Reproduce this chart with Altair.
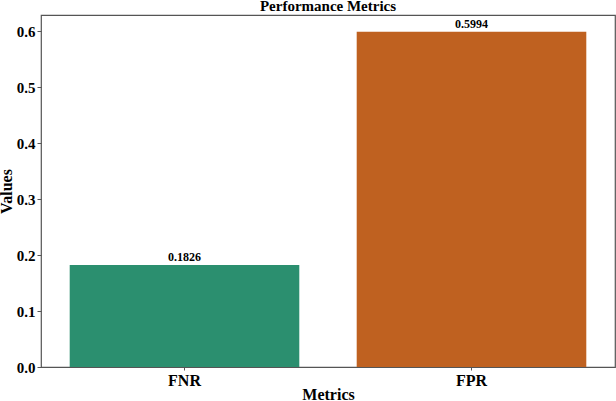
import altair as alt
import pandas as pd

metrics = ["FNR", "FPR"]
values = [0.1826, 0.5994]
colors = ["#2b8f6f", "#bf6120"]

df = pd.DataFrame({"Metric": metrics, "Value": values, "Label": [f"{v:.4f}" for v in values]})

FONT = "Liberation Serif"

x = alt.X("Metric:N", sort=metrics,
          scale=alt.Scale(paddingInner=0.2, paddingOuter=0.1),
          axis=alt.Axis(title="Metrics", labelAngle=0, labelFontSize=16, labelFontWeight="bold",
                        titleFontSize=16, titleFontWeight="bold", titlePadding=-2,
                        labelPadding=2, tickSize=3, domain=False))
y = alt.Y("Value:Q", scale=alt.Scale(domain=[0, 0.6294], nice=False, zero=True),
          axis=alt.Axis(title="Values", values=[0, 0.1, 0.2, 0.3, 0.4, 0.5, 0.6], format=".1f",
                        labelFontSize=15, labelFontWeight="bold", titleFontSize=16,
                        titleFontWeight="bold", titlePadding=2, labelPadding=2, tickSize=4,
                        grid=False, domain=False))

bars = alt.Chart(df).mark_bar().encode(
    x=x, y=y,
    color=alt.Color("Metric:N", scale=alt.Scale(domain=metrics, range=colors), legend=None),
)
text = alt.Chart(df).mark_text(baseline="bottom", dy=-1, fontSize=12, fontWeight="bold", font=FONT).encode(
    x=alt.X("Metric:N", sort=metrics), y="Value:Q", text="Label:N"
)

chart = (bars + text).properties(
    width=574, height=352,
    title=alt.TitleParams("Performance Metrics", fontSize=15, fontWeight="bold", font=FONT,
                          anchor="middle", offset=1),
    autosize=alt.AutoSizeParams(type="none"),
    padding={"left": 41, "top": 15, "right": 1, "bottom": 34},
).configure_view(stroke="#555555", strokeWidth=1.2).configure_axis(
    labelFont=FONT, titleFont=FONT, labelColor="black", titleColor="black", tickColor="#555555"
)

chart.save("out.html", embed_options={"renderer": "svg", "actions": False})
